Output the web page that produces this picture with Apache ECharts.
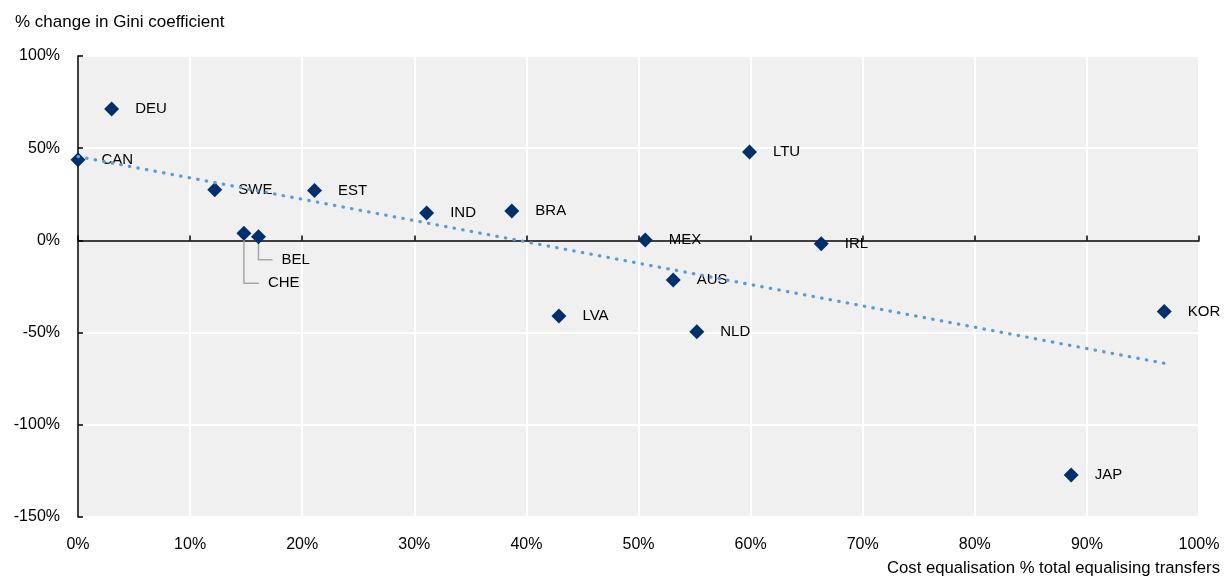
<!DOCTYPE html>
<html>
<head>
<meta charset="utf-8">
<script src="https://cdn.jsdelivr.net/npm/echarts@6/dist/echarts.min.js"></script>
<style>
  html, body { margin: 0; padding: 0; background: #fff; }
  #chart { width: 1230px; height: 588px; }
</style>
</head>
<body>
<div id="chart"></div>
<script>
// countries and values
const countries = ['CAN', 'DEU', 'SWE', 'EST', 'CHE', 'BEL', 'IND', 'BRA', 'LVA', 'MEX', 'AUS', 'NLD', 'LTU', 'IRL', 'JAP', 'KOR']
// cost equalisation, % of total equalising transfers
const costShare = [0, 3.0, 12.2, 21.1, 14.8, 16.1, 31.1, 38.7, 42.9, 50.6, 53.1, 55.2, 59.9, 66.3, 88.6, 96.9]
// % change in Gini coefficient
const giniChange = [43.8, 71.2, 27.5, 27.0, 3.9, 2.0, 14.8, 16.0, -41.0, 0.2, -21.5, -49.5, 48.0, -1.8, -127.2, -38.6]
const xTicks = [0, 100, 10]
const yTicks = [-150, 100, 50]

// labels drawn with an elbow leader line instead of the plain label
const callouts = {
  CHE: { drop: 50, run: 15 },
  BEL: { drop: 23, run: 14 },
}

const FONT = 'Arial, "Liberation Sans", sans-serif'

// linear trend (least squares) over the points
function trend(xs, ys) {
  const n = xs.length
  const mx = xs.reduce((a, b) => a + b, 0) / n
  const my = ys.reduce((a, b) => a + b, 0) / n
  let sxy = 0, sxx = 0
  xs.forEach((x, i) => {
    sxy += (x - mx) * (ys[i] - my)
    sxx += (x - mx) * (x - mx)
  })
  const k = sxy / sxx
  const b = my - k * mx
  const x0 = Math.min(...xs), x1 = Math.max(...xs)
  return [[x0, k * x0 + b], [x1, k * x1 + b]]
}

const points = countries.map((c, i) => ({
  name: c,
  value: [costShare[i], giniChange[i]],
  label: { show: !callouts[c] },
}))
const calloutData = countries
  .map((c, i) => [costShare[i], giniChange[i], i])
  .filter((d) => callouts[countries[d[2]]])

const chart = echarts.init(document.getElementById('chart'))

chart.setOption({
  animation: false,
  grid: {
    left: 78, right: 31, top: 56, bottom: 71,
    show: true, backgroundColor: '#f0f0f0', borderWidth: 0,
  },
  graphic: [
    {
      type: 'text', left: 15, top: 14,
      style: { text: '% change in Gini coefficient', fontSize: 17, fontFamily: FONT, fill: '#000' },
    },
    {
      type: 'text', right: 10, top: 560,
      style: { text: 'Cost equalisation % total equalising transfers', fontSize: 16.7, fontFamily: FONT, fill: '#000' },
    },
  ],
  xAxis: [
    {
      // zero line with ticks
      type: 'value', min: xTicks[0], max: xTicks[1], interval: xTicks[2],
      axisLine: { show: true, onZero: true, lineStyle: { color: '#000', width: 1.5 } },
      axisTick: { show: true, inside: true, length: 5, lineStyle: { color: '#000', width: 1.5 } },
      axisLabel: { show: false },
      splitLine: { show: true, lineStyle: { color: '#fff', width: 2 } },
    },
    {
      // labels at the bottom
      type: 'value', position: 'bottom', min: xTicks[0], max: xTicks[1], interval: xTicks[2],
      axisLine: { show: false, onZero: false },
      axisTick: { show: false },
      splitLine: { show: false },
      axisLabel: { formatter: '{value}%', fontSize: 16, fontFamily: FONT, color: '#000', margin: 20 },
    },
  ],
  yAxis: {
    type: 'value', min: yTicks[0], max: yTicks[1], interval: yTicks[2],
    axisLine: { show: true, onZero: false, lineStyle: { color: '#000', width: 1.5 } },
    axisTick: { show: true, inside: true, length: 5, lineStyle: { color: '#000', width: 1.5 } },
    splitLine: { show: true, lineStyle: { color: '#fff', width: 2 } },
    axisLabel: { formatter: '{value}%', fontSize: 16, fontFamily: FONT, color: '#000', margin: 18 },
  },
  series: [
    {
      type: 'custom',
      z: 1,
      data: calloutData,
      renderItem(params, api) {
        const p = api.coord([api.value(0), api.value(1)])
        const name = countries[api.value(2)]
        const c = callouts[name]
        return {
          type: 'group',
          children: [
            {
              type: 'polyline',
              shape: { points: [[p[0], p[1]], [p[0], p[1] + c.drop], [p[0] + c.run, p[1] + c.drop]] },
              style: { stroke: '#a6a6a6', lineWidth: 1.5, fill: null },
            },
            {
              type: 'text',
              x: p[0] + c.run + 9,
              y: p[1] + c.drop,
              style: { text: name, fontSize: 15, fontFamily: FONT, fill: '#000', verticalAlign: 'middle' },
            },
          ],
        }
      },
    },
    {
      type: 'scatter',
      z: 2,
      data: points,
      symbol: 'diamond',
      symbolSize: [15, 15],
      itemStyle: { color: '#002F6C', opacity: 1 },
      label: {
        position: 'right', distance: 16, formatter: '{b}',
        fontSize: 15, fontFamily: FONT, color: '#000', opacity: 1,
      },
    },
    {
      type: 'line',
      z: 3,
      data: trend(costShare, giniChange),
      symbol: 'none',
      silent: true,
      lineStyle: { color: '#5B9BD5', width: 3.2, type: [0.5, 8.2], cap: 'round' },
    },
  ],
})
</script>
</body>
</html>
